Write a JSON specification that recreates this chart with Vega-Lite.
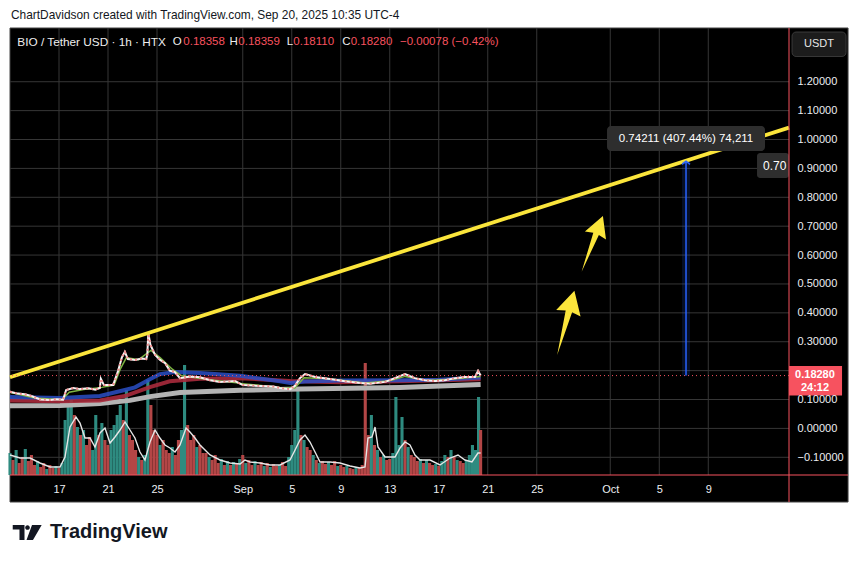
{
  "$schema": "https://vega.github.io/schema/vega-lite/v6.json",
  "width": 779,
  "height": 447,
  "autosize": {"type": "none"},
  "padding": {"left": 10, "top": 28, "right": 71, "bottom": 88},
  "background": "#ffffff",
  "config": {
    "view": {"fill": "#000000", "stroke": null},
    "font": "Liberation Sans",
    "axis": {"domain": false, "ticks": false, "tickSize": 0, "grid": false, "labelFont": "Liberation Sans", "labelFontSize": 11, "labelColor": "#eceef2", "labelOverlap": false}
  },
  "data": {"values": [{}]},
  "datasets": {
    "gridx": [
      {"t": "2025-08-17T00:00"}, {"t": "2025-08-21T00:00"}, {"t": "2025-08-25T00:00"}, {"t": "2025-09-01T00:00"},
      {"t": "2025-09-05T00:00"}, {"t": "2025-09-09T00:00"}, {"t": "2025-09-13T00:00"}, {"t": "2025-09-17T00:00"},
      {"t": "2025-09-21T00:00"}, {"t": "2025-09-25T00:00"}, {"t": "2025-10-01T00:00"}, {"t": "2025-10-05T00:00"},
      {"t": "2025-10-09T00:00"}
    ],
    "gridy": [
      {"v": -0.1}, {"v": 0}, {"v": 0.1}, {"v": 0.2}, {"v": 0.3}, {"v": 0.4}, {"v": 0.5}, {"v": 0.6}, {"v": 0.7},
      {"v": 0.8}, {"v": 0.9}, {"v": 1.0}, {"v": 1.1}, {"v": 1.2}
    ],
    "volume": [
      {"t": "2025-08-13T00:00", "v": 22, "d": "u"}, {"t": "2025-08-13T06:00", "v": 15, "d": "d"}, {"t": "2025-08-13T12:00", "v": 25, "d": "u"}, {"t": "2025-08-13T18:00", "v": 12, "d": "d"},
      {"t": "2025-08-14T00:00", "v": 18, "d": "d"}, {"t": "2025-08-14T06:00", "v": 26, "d": "u"}, {"t": "2025-08-14T12:00", "v": 14, "d": "d"}, {"t": "2025-08-14T18:00", "v": 20, "d": "d"},
      {"t": "2025-08-15T00:00", "v": 10, "d": "d"}, {"t": "2025-08-15T06:00", "v": 14, "d": "u"}, {"t": "2025-08-15T12:00", "v": 8, "d": "d"}, {"t": "2025-08-15T18:00", "v": 12, "d": "d"},
      {"t": "2025-08-16T00:00", "v": 6, "d": "u"}, {"t": "2025-08-16T06:00", "v": 10, "d": "d"}, {"t": "2025-08-16T12:00", "v": 7, "d": "d"}, {"t": "2025-08-16T18:00", "v": 9, "d": "u"},
      {"t": "2025-08-17T00:00", "v": 7, "d": "d"}, {"t": "2025-08-17T06:00", "v": 12, "d": "u"}, {"t": "2025-08-17T12:00", "v": 55, "d": "u"}, {"t": "2025-08-17T18:00", "v": 70, "d": "u"},
      {"t": "2025-08-18T00:00", "v": 75, "d": "u"}, {"t": "2025-08-18T06:00", "v": 60, "d": "d"}, {"t": "2025-08-18T12:00", "v": 48, "d": "u"}, {"t": "2025-08-18T18:00", "v": 40, "d": "d"},
      {"t": "2025-08-19T00:00", "v": 45, "d": "u"}, {"t": "2025-08-19T06:00", "v": 30, "d": "d"}, {"t": "2025-08-19T12:00", "v": 38, "d": "d"}, {"t": "2025-08-19T18:00", "v": 25, "d": "u"},
      {"t": "2025-08-20T00:00", "v": 60, "d": "u"}, {"t": "2025-08-20T06:00", "v": 40, "d": "d"}, {"t": "2025-08-20T12:00", "v": 52, "d": "u"}, {"t": "2025-08-20T18:00", "v": 35, "d": "d"},
      {"t": "2025-08-21T00:00", "v": 30, "d": "d"}, {"t": "2025-08-21T06:00", "v": 45, "d": "u"}, {"t": "2025-08-21T12:00", "v": 50, "d": "u"}, {"t": "2025-08-21T18:00", "v": 60, "d": "u"},
      {"t": "2025-08-22T00:00", "v": 70, "d": "u"}, {"t": "2025-08-22T06:00", "v": 55, "d": "d"}, {"t": "2025-08-22T12:00", "v": 85, "d": "u"}, {"t": "2025-08-22T18:00", "v": 40, "d": "d"},
      {"t": "2025-08-23T00:00", "v": 35, "d": "d"}, {"t": "2025-08-23T06:00", "v": 25, "d": "d"}, {"t": "2025-08-23T12:00", "v": 18, "d": "u"}, {"t": "2025-08-23T18:00", "v": 15, "d": "d"},
      {"t": "2025-08-24T00:00", "v": 20, "d": "u"}, {"t": "2025-08-24T06:00", "v": 95, "d": "u"}, {"t": "2025-08-24T12:00", "v": 70, "d": "d"}, {"t": "2025-08-24T18:00", "v": 45, "d": "d"},
      {"t": "2025-08-25T00:00", "v": 40, "d": "d"}, {"t": "2025-08-25T06:00", "v": 30, "d": "u"}, {"t": "2025-08-25T12:00", "v": 35, "d": "d"}, {"t": "2025-08-25T18:00", "v": 25, "d": "d"},
      {"t": "2025-08-26T00:00", "v": 22, "d": "d"}, {"t": "2025-08-26T06:00", "v": 28, "d": "u"}, {"t": "2025-08-26T12:00", "v": 20, "d": "d"}, {"t": "2025-08-26T18:00", "v": 35, "d": "d"},
      {"t": "2025-08-27T00:00", "v": 45, "d": "u"}, {"t": "2025-08-27T06:00", "v": 110, "d": "u"}, {"t": "2025-08-27T12:00", "v": 50, "d": "d"}, {"t": "2025-08-27T18:00", "v": 35, "d": "d"},
      {"t": "2025-08-28T00:00", "v": 40, "d": "d"}, {"t": "2025-08-28T06:00", "v": 28, "d": "u"}, {"t": "2025-08-28T12:00", "v": 30, "d": "d"}, {"t": "2025-08-28T18:00", "v": 22, "d": "d"},
      {"t": "2025-08-29T00:00", "v": 22, "d": "d"}, {"t": "2025-08-29T06:00", "v": 18, "d": "u"}, {"t": "2025-08-29T12:00", "v": 15, "d": "d"}, {"t": "2025-08-29T18:00", "v": 20, "d": "d"},
      {"t": "2025-08-30T00:00", "v": 12, "d": "d"}, {"t": "2025-08-30T06:00", "v": 16, "d": "u"}, {"t": "2025-08-30T12:00", "v": 10, "d": "d"}, {"t": "2025-08-30T18:00", "v": 14, "d": "u"},
      {"t": "2025-08-31T00:00", "v": 10, "d": "d"}, {"t": "2025-08-31T06:00", "v": 13, "d": "u"}, {"t": "2025-08-31T12:00", "v": 12, "d": "d"}, {"t": "2025-08-31T18:00", "v": 16, "d": "u"},
      {"t": "2025-09-01T00:00", "v": 20, "d": "d"}, {"t": "2025-09-01T06:00", "v": 12, "d": "u"}, {"t": "2025-09-01T12:00", "v": 15, "d": "d"}, {"t": "2025-09-01T18:00", "v": 10, "d": "d"},
      {"t": "2025-09-02T00:00", "v": 14, "d": "u"}, {"t": "2025-09-02T06:00", "v": 10, "d": "d"}, {"t": "2025-09-02T12:00", "v": 13, "d": "d"}, {"t": "2025-09-02T18:00", "v": 9, "d": "u"},
      {"t": "2025-09-03T00:00", "v": 12, "d": "d"}, {"t": "2025-09-03T06:00", "v": 8, "d": "u"}, {"t": "2025-09-03T12:00", "v": 11, "d": "d"}, {"t": "2025-09-03T18:00", "v": 9, "d": "d"},
      {"t": "2025-09-04T00:00", "v": 10, "d": "u"}, {"t": "2025-09-04T06:00", "v": 13, "d": "d"}, {"t": "2025-09-04T12:00", "v": 9, "d": "d"}, {"t": "2025-09-04T18:00", "v": 18, "d": "u"},
      {"t": "2025-09-05T00:00", "v": 30, "d": "u"}, {"t": "2025-09-05T06:00", "v": 45, "d": "u"}, {"t": "2025-09-05T12:00", "v": 88, "d": "u"}, {"t": "2025-09-05T18:00", "v": 40, "d": "d"},
      {"t": "2025-09-06T00:00", "v": 35, "d": "u"}, {"t": "2025-09-06T06:00", "v": 28, "d": "d"}, {"t": "2025-09-06T12:00", "v": 25, "d": "d"}, {"t": "2025-09-06T18:00", "v": 20, "d": "u"},
      {"t": "2025-09-07T00:00", "v": 15, "d": "d"}, {"t": "2025-09-07T06:00", "v": 12, "d": "u"}, {"t": "2025-09-07T12:00", "v": 14, "d": "d"}, {"t": "2025-09-07T18:00", "v": 11, "d": "d"},
      {"t": "2025-09-08T00:00", "v": 13, "d": "u"}, {"t": "2025-09-08T06:00", "v": 10, "d": "d"}, {"t": "2025-09-08T12:00", "v": 14, "d": "d"}, {"t": "2025-09-08T18:00", "v": 9, "d": "u"},
      {"t": "2025-09-09T00:00", "v": 10, "d": "d"}, {"t": "2025-09-09T06:00", "v": 8, "d": "d"}, {"t": "2025-09-09T12:00", "v": 9, "d": "u"}, {"t": "2025-09-09T18:00", "v": 7, "d": "d"},
      {"t": "2025-09-10T00:00", "v": 6, "d": "d"}, {"t": "2025-09-10T06:00", "v": 8, "d": "u"}, {"t": "2025-09-10T12:00", "v": 7, "d": "d"}, {"t": "2025-09-10T18:00", "v": 10, "d": "d"},
      {"t": "2025-09-11T00:00", "v": 112, "d": "d"}, {"t": "2025-09-11T06:00", "v": 40, "d": "d"}, {"t": "2025-09-11T12:00", "v": 60, "d": "u"}, {"t": "2025-09-11T18:00", "v": 30, "d": "d"},
      {"t": "2025-09-12T00:00", "v": 25, "d": "u"}, {"t": "2025-09-12T06:00", "v": 18, "d": "d"}, {"t": "2025-09-12T12:00", "v": 20, "d": "u"}, {"t": "2025-09-12T18:00", "v": 15, "d": "d"},
      {"t": "2025-09-13T00:00", "v": 16, "d": "d"}, {"t": "2025-09-13T06:00", "v": 22, "d": "u"}, {"t": "2025-09-13T12:00", "v": 78, "d": "u"}, {"t": "2025-09-13T18:00", "v": 30, "d": "u"},
      {"t": "2025-09-14T00:00", "v": 58, "d": "u"}, {"t": "2025-09-14T06:00", "v": 35, "d": "d"}, {"t": "2025-09-14T12:00", "v": 28, "d": "u"}, {"t": "2025-09-14T18:00", "v": 20, "d": "d"},
      {"t": "2025-09-15T00:00", "v": 18, "d": "d"}, {"t": "2025-09-15T06:00", "v": 14, "d": "d"}, {"t": "2025-09-15T12:00", "v": 16, "d": "u"}, {"t": "2025-09-15T18:00", "v": 12, "d": "d"},
      {"t": "2025-09-16T00:00", "v": 15, "d": "u"}, {"t": "2025-09-16T06:00", "v": 12, "d": "d"}, {"t": "2025-09-16T12:00", "v": 10, "d": "d"}, {"t": "2025-09-16T18:00", "v": 11, "d": "u"},
      {"t": "2025-09-17T00:00", "v": 9, "d": "d"}, {"t": "2025-09-17T06:00", "v": 14, "d": "u"}, {"t": "2025-09-17T12:00", "v": 20, "d": "u"}, {"t": "2025-09-17T18:00", "v": 18, "d": "d"},
      {"t": "2025-09-18T00:00", "v": 25, "d": "u"}, {"t": "2025-09-18T06:00", "v": 18, "d": "d"}, {"t": "2025-09-18T12:00", "v": 15, "d": "u"}, {"t": "2025-09-18T18:00", "v": 14, "d": "d"},
      {"t": "2025-09-19T00:00", "v": 12, "d": "d"}, {"t": "2025-09-19T06:00", "v": 15, "d": "u"}, {"t": "2025-09-19T12:00", "v": 20, "d": "u"}, {"t": "2025-09-19T18:00", "v": 30, "d": "u"},
      {"t": "2025-09-20T00:00", "v": 25, "d": "u"}, {"t": "2025-09-20T06:00", "v": 78, "d": "u"}, {"t": "2025-09-20T10:00", "v": 45, "d": "d"}
    ],
    "volma": [
      {"t": "2025-08-13T00:00", "v": 20}, {"t": "2025-08-13T19:35", "v": 17}, {"t": "2025-08-14T15:11", "v": 17}, {"t": "2025-08-15T10:47", "v": 12},
      {"t": "2025-08-16T06:22", "v": 8}, {"t": "2025-08-17T01:58", "v": 8}, {"t": "2025-08-17T11:45", "v": 18}, {"t": "2025-08-17T21:33", "v": 48},
      {"t": "2025-08-18T09:18", "v": 58}, {"t": "2025-08-18T17:08", "v": 52}, {"t": "2025-08-19T02:56", "v": 37}, {"t": "2025-08-19T12:44", "v": 37},
      {"t": "2025-08-19T22:32", "v": 28}, {"t": "2025-08-20T08:20", "v": 42}, {"t": "2025-08-20T18:07", "v": 47}, {"t": "2025-08-21T03:55", "v": 32},
      {"t": "2025-08-21T13:42", "v": 38}, {"t": "2025-08-21T23:31", "v": 45}, {"t": "2025-08-22T09:18", "v": 53}, {"t": "2025-08-22T19:06", "v": 45},
      {"t": "2025-08-23T04:48", "v": 37}, {"t": "2025-08-23T14:38", "v": 23}, {"t": "2025-08-24T00:29", "v": 15}, {"t": "2025-08-24T10:19", "v": 33},
      {"t": "2025-08-24T20:09", "v": 45}, {"t": "2025-08-25T05:45", "v": 37}, {"t": "2025-08-25T15:36", "v": 30}, {"t": "2025-08-26T01:26", "v": 27},
      {"t": "2025-08-26T11:17", "v": 23}, {"t": "2025-08-26T21:07", "v": 30}, {"t": "2025-08-27T08:53", "v": 47}, {"t": "2025-08-27T16:34", "v": 43},
      {"t": "2025-08-28T02:24", "v": 37}, {"t": "2025-08-28T12:14", "v": 30}, {"t": "2025-08-29T07:55", "v": 20}, {"t": "2025-08-30T03:21", "v": 15},
      {"t": "2025-08-30T23:02", "v": 12}, {"t": "2025-08-31T18:43", "v": 11}, {"t": "2025-09-01T04:19", "v": 15}, {"t": "2025-09-01T14:10", "v": 13},
      {"t": "2025-09-02T09:50", "v": 12}, {"t": "2025-09-03T05:17", "v": 10}, {"t": "2025-09-04T00:58", "v": 10}, {"t": "2025-09-04T20:38", "v": 15},
      {"t": "2025-09-05T06:29", "v": 25}, {"t": "2025-09-05T16:05", "v": 35}, {"t": "2025-09-06T01:55", "v": 40}, {"t": "2025-09-06T11:46", "v": 33},
      {"t": "2025-09-06T21:36", "v": 23}, {"t": "2025-09-07T07:26", "v": 13}, {"t": "2025-09-08T02:53", "v": 13}, {"t": "2025-09-08T22:34", "v": 12},
      {"t": "2025-09-09T18:14", "v": 9}, {"t": "2025-09-10T13:41", "v": 7}, {"t": "2025-09-10T23:31", "v": 8}, {"t": "2025-09-11T05:17", "v": 37},
      {"t": "2025-09-11T13:12", "v": 38}, {"t": "2025-09-11T19:12", "v": 48}, {"t": "2025-09-12T00:58", "v": 28}, {"t": "2025-09-12T14:38", "v": 18},
      {"t": "2025-09-13T10:19", "v": 18}, {"t": "2025-09-13T20:10", "v": 27}, {"t": "2025-09-14T05:45", "v": 33}, {"t": "2025-09-14T15:36", "v": 30},
      {"t": "2025-09-15T01:26", "v": 20}, {"t": "2025-09-15T11:17", "v": 15}, {"t": "2025-09-16T06:58", "v": 15}, {"t": "2025-09-17T02:24", "v": 10},
      {"t": "2025-09-17T22:05", "v": 17}, {"t": "2025-09-18T13:41", "v": 20}, {"t": "2025-09-19T03:21", "v": 15}, {"t": "2025-09-19T17:02", "v": 13},
      {"t": "2025-09-20T04:48", "v": 22}, {"t": "2025-09-20T10:00", "v": 22}
    ],
    "trend": [
      {"t": "2025-08-13T00:00", "v": 0.177}, {"t": "2025-10-15T14:10", "v": 1.041}
    ],
    "gray": [
      {"t": "2025-08-13T00:00", "v": 0.078}, {"t": "2025-08-17T02:00", "v": 0.079}, {"t": "2025-08-20T08:00", "v": 0.086}, {"t": "2025-08-22T19:00", "v": 0.097},
      {"t": "2025-08-24T10:00", "v": 0.110}, {"t": "2025-08-26T21:00", "v": 0.124}, {"t": "2025-08-31T19:00", "v": 0.132}, {"t": "2025-09-05T16:00", "v": 0.136},
      {"t": "2025-09-13T20:00", "v": 0.142}, {"t": "2025-09-20T10:00", "v": 0.152}
    ],
    "red": [
      {"t": "2025-08-13T00:00", "v": 0.097}, {"t": "2025-08-17T02:00", "v": 0.094}, {"t": "2025-08-20T08:00", "v": 0.097}, {"t": "2025-08-22T09:00", "v": 0.112},
      {"t": "2025-08-24T10:00", "v": 0.143}, {"t": "2025-08-26T01:00", "v": 0.163}, {"t": "2025-08-28T12:00", "v": 0.172}, {"t": "2025-08-31T19:00", "v": 0.174},
      {"t": "2025-09-04T21:00", "v": 0.164}, {"t": "2025-09-08T23:00", "v": 0.160}, {"t": "2025-09-13T20:00", "v": 0.163}, {"t": "2025-09-20T10:00", "v": 0.170}
    ],
    "blue": [
      {"t": "2025-08-13T00:00", "v": 0.109}, {"t": "2025-08-17T02:00", "v": 0.105}, {"t": "2025-08-20T08:00", "v": 0.112}, {"t": "2025-08-22T09:00", "v": 0.133},
      {"t": "2025-08-23T05:00", "v": 0.142}, {"t": "2025-08-24T10:00", "v": 0.170}, {"t": "2025-08-25T06:00", "v": 0.188}, {"t": "2025-08-26T11:00", "v": 0.195},
      {"t": "2025-08-28T12:00", "v": 0.192}, {"t": "2025-08-31T19:00", "v": 0.182}, {"t": "2025-09-04T01:00", "v": 0.163}, {"t": "2025-09-04T21:00", "v": 0.157},
      {"t": "2025-09-06T02:00", "v": 0.162}, {"t": "2025-09-08T23:00", "v": 0.166}, {"t": "2025-09-13T20:00", "v": 0.167}, {"t": "2025-09-17T02:00", "v": 0.168},
      {"t": "2025-09-20T10:00", "v": 0.176}
    ],
    "green": [
      {"t": "2025-08-13T00:00", "v": 0.125}, {"t": "2025-08-15T00:00", "v": 0.105}, {"t": "2025-08-17T06:00", "v": 0.099}, {"t": "2025-08-17T20:00", "v": 0.125},
      {"t": "2025-08-19T00:00", "v": 0.135}, {"t": "2025-08-20T12:00", "v": 0.142}, {"t": "2025-08-21T12:00", "v": 0.150}, {"t": "2025-08-22T00:00", "v": 0.205},
      {"t": "2025-08-22T12:00", "v": 0.245}, {"t": "2025-08-23T12:00", "v": 0.238}, {"t": "2025-08-24T12:00", "v": 0.270}, {"t": "2025-08-25T06:00", "v": 0.245},
      {"t": "2025-08-26T06:00", "v": 0.205}, {"t": "2025-08-27T00:00", "v": 0.182}, {"t": "2025-08-29T00:00", "v": 0.170}, {"t": "2025-09-01T00:00", "v": 0.155},
      {"t": "2025-09-04T00:00", "v": 0.142}, {"t": "2025-09-05T06:00", "v": 0.140}, {"t": "2025-09-06T00:00", "v": 0.175}, {"t": "2025-09-08T00:00", "v": 0.172},
      {"t": "2025-09-11T00:00", "v": 0.157}, {"t": "2025-09-13T00:00", "v": 0.165}, {"t": "2025-09-14T06:00", "v": 0.180}, {"t": "2025-09-16T00:00", "v": 0.166},
      {"t": "2025-09-18T00:00", "v": 0.170}, {"t": "2025-09-20T10:00", "v": 0.180}
    ],
    "price": [
      {"t": "2025-08-13T00:00", "v": 0.127}, {"t": "2025-08-13T12:00", "v": 0.122}, {"t": "2025-08-14T05:00", "v": 0.118}, {"t": "2025-08-14T18:00", "v": 0.112},
      {"t": "2025-08-15T11:00", "v": 0.100}, {"t": "2025-08-16T06:00", "v": 0.098}, {"t": "2025-08-16T20:00", "v": 0.101}, {"t": "2025-08-17T08:00", "v": 0.099},
      {"t": "2025-08-17T14:00", "v": 0.133}, {"t": "2025-08-18T04:00", "v": 0.140}, {"t": "2025-08-18T17:00", "v": 0.136}, {"t": "2025-08-19T10:00", "v": 0.139},
      {"t": "2025-08-19T23:00", "v": 0.134}, {"t": "2025-08-20T08:00", "v": 0.140}, {"t": "2025-08-20T10:00", "v": 0.172}, {"t": "2025-08-20T16:00", "v": 0.150},
      {"t": "2025-08-21T10:00", "v": 0.150}, {"t": "2025-08-21T20:00", "v": 0.200}, {"t": "2025-08-22T03:00", "v": 0.245}, {"t": "2025-08-22T09:00", "v": 0.265},
      {"t": "2025-08-22T15:00", "v": 0.240}, {"t": "2025-08-23T05:00", "v": 0.237}, {"t": "2025-08-23T18:00", "v": 0.242}, {"t": "2025-08-24T03:00", "v": 0.240},
      {"t": "2025-08-24T05:00", "v": 0.255}, {"t": "2025-08-24T07:00", "v": 0.330}, {"t": "2025-08-24T11:00", "v": 0.290}, {"t": "2025-08-24T20:00", "v": 0.255},
      {"t": "2025-08-25T06:00", "v": 0.237}, {"t": "2025-08-25T16:00", "v": 0.226}, {"t": "2025-08-26T01:00", "v": 0.200}, {"t": "2025-08-26T11:00", "v": 0.195},
      {"t": "2025-08-26T21:00", "v": 0.174}, {"t": "2025-08-27T17:00", "v": 0.180}, {"t": "2025-08-28T12:00", "v": 0.177}, {"t": "2025-08-29T08:00", "v": 0.167},
      {"t": "2025-08-30T03:00", "v": 0.161}, {"t": "2025-08-31T09:00", "v": 0.164}, {"t": "2025-09-01T00:00", "v": 0.150}, {"t": "2025-09-02T10:00", "v": 0.147},
      {"t": "2025-09-03T12:00", "v": 0.145}, {"t": "2025-09-04T01:00", "v": 0.140}, {"t": "2025-09-04T21:00", "v": 0.136}, {"t": "2025-09-05T06:00", "v": 0.147},
      {"t": "2025-09-05T16:00", "v": 0.174}, {"t": "2025-09-06T02:00", "v": 0.188}, {"t": "2025-09-06T22:00", "v": 0.178}, {"t": "2025-09-08T03:00", "v": 0.171},
      {"t": "2025-09-09T08:00", "v": 0.163}, {"t": "2025-09-10T14:00", "v": 0.157}, {"t": "2025-09-11T09:00", "v": 0.155}, {"t": "2025-09-12T15:00", "v": 0.161},
      {"t": "2025-09-13T10:00", "v": 0.174}, {"t": "2025-09-14T06:00", "v": 0.188}, {"t": "2025-09-15T01:00", "v": 0.174}, {"t": "2025-09-15T21:00", "v": 0.167},
      {"t": "2025-09-16T17:00", "v": 0.164}, {"t": "2025-09-17T12:00", "v": 0.167}, {"t": "2025-09-18T08:00", "v": 0.174}, {"t": "2025-09-19T03:00", "v": 0.178},
      {"t": "2025-09-19T23:00", "v": 0.178}, {"t": "2025-09-20T05:00", "v": 0.199}, {"t": "2025-09-20T10:00", "v": 0.1828}
    ]
  },
  "resolve": {"scale": {"y": "independent"}},
  "layer": [
    {
      "layer": [
        {
          "mark": {"type": "rect", "fill": "#000000", "stroke": "#454545", "strokeWidth": 1},
          "encoding": {
            "x": {"datum": {"year": 2025, "month": 8, "date": 13, "hours": 0}, "type": "temporal"},
            "x2": {"datum": {"year": 2025, "month": 10, "date": 20, "hours": 9, "minutes": 50}},
            "y": {"datum": 1.386, "type": "quantitative", "scale": {"domain": [-0.1613, 1.386], "nice": false, "zero": false}, "axis": null},
            "y2": {"datum": -0.2548}
          }
        },
        {
          "data": {"name": "gridx"},
          "mark": {"type": "rule", "color": "#363636", "strokeWidth": 1},
          "encoding": {
            "x": {
              "field": "t", "type": "temporal",
              "scale": {"domain": [{"year": 2025, "month": 8, "date": 13, "hours": 0}, {"year": 2025, "month": 10, "date": 15, "hours": 14, "minutes": 10}], "padding": 0},
              "axis": {
                "title": null,
                "zindex": 1,
                "tickCount": 30,
                "values": [
                  {"year": 2025, "month": 8, "date": 17}, {"year": 2025, "month": 8, "date": 21}, {"year": 2025, "month": 8, "date": 25},
                  {"year": 2025, "month": 9, "date": 1}, {"year": 2025, "month": 9, "date": 5}, {"year": 2025, "month": 9, "date": 9},
                  {"year": 2025, "month": 9, "date": 13}, {"year": 2025, "month": 9, "date": 17}, {"year": 2025, "month": 9, "date": 21},
                  {"year": 2025, "month": 9, "date": 25}, {"year": 2025, "month": 10, "date": 1}, {"year": 2025, "month": 10, "date": 5},
                  {"year": 2025, "month": 10, "date": 9}
                ],
                "labelExpr": "date(datum.value) == 1 ? timeFormat(datum.value, '%b') : timeFormat(datum.value, '%-d')",
                "labelPadding": 8,
                "labelFlush": false,
                "labelOverlap": false
              }
            }
          }
        },
        {
          "data": {"name": "gridy"},
          "mark": {"type": "rule", "color": "#363636", "strokeWidth": 1},
          "encoding": {
            "y": {"field": "v", "type": "quantitative", "scale": {"domain": [-0.1613, 1.386], "nice": false, "zero": false}, "axis": null}
          }
        }
      ]
    },
    {
      "layer": [
        {
          "data": {"name": "volume"},
          "mark": {"type": "bar", "width": 3.1},
          "encoding": {
            "x": {"field": "t", "type": "temporal"},
            "y": {"field": "v", "type": "quantitative", "scale": {"domain": [0, 447], "nice": false}, "axis": null},
            "color": {"field": "d", "type": "nominal", "scale": {"domain": ["u", "d"], "range": ["#2e8b80", "#b34646"]}, "legend": null}
          }
        },
        {
          "data": {"name": "volma"},
          "mark": {"type": "line", "color": "#e6e6e6", "strokeWidth": 1.4},
          "encoding": {
            "x": {"field": "t", "type": "temporal"},
            "y": {"field": "v", "type": "quantitative"}
          }
        }
      ]
    },
    {
      "layer": [
        {
          "data": {"name": "gray"},
          "mark": {"type": "line", "color": "#b4b4b4", "strokeWidth": 5},
          "encoding": {
            "x": {"field": "t", "type": "temporal"},
            "y": {
              "field": "v", "type": "quantitative",
              "scale": {"domain": [-0.1613, 1.386], "nice": false, "zero": false},
              "axis": {
                "orient": "right", "title": null, "format": ".5f", "labelPadding": 8, "zindex": 1,
                "labelOverlap": false, "tickCount": 30,
                "values": [-0.1, 0, 0.1, 0.3, 0.4, 0.5, 0.6, 0.7, 0.8, 0.9, 1.0, 1.1, 1.2]
              }
            }
          }
        },
        {
          "data": {"name": "red"},
          "mark": {"type": "line", "color": "#a82a3c", "strokeWidth": 4, "opacity": 0.9},
          "encoding": {"x": {"field": "t", "type": "temporal"}, "y": {"field": "v", "type": "quantitative"}}
        },
        {
          "data": {"name": "blue"},
          "mark": {"type": "line", "color": "#2a4fc4", "strokeWidth": 4, "opacity": 0.85},
          "encoding": {"x": {"field": "t", "type": "temporal"}, "y": {"field": "v", "type": "quantitative"}}
        },
        {
          "data": {"name": "green"},
          "mark": {"type": "line", "color": "#7cb342", "strokeWidth": 1.5},
          "encoding": {"x": {"field": "t", "type": "temporal"}, "y": {"field": "v", "type": "quantitative"}}
        },
        {
          "data": {"name": "price"},
          "mark": {"type": "line", "color": "#f5f5f5", "strokeWidth": 2},
          "encoding": {"x": {"field": "t", "type": "temporal"}, "y": {"field": "v", "type": "quantitative"}}
        },
        {
          "data": {"name": "price"},
          "mark": {"type": "line", "color": "#f28b8b", "strokeWidth": 2, "strokeDash": [2, 3]},
          "encoding": {"x": {"field": "t", "type": "temporal"}, "y": {"field": "v", "type": "quantitative"}}
        },
        {
          "data": {"name": "trend"},
          "mark": {"type": "line", "color": "#fbe53b", "strokeWidth": 3.8},
          "encoding": {"x": {"field": "t", "type": "temporal"}, "y": {"field": "v", "type": "quantitative"}}
        },
        {
          "mark": {"type": "rule", "color": "#f7525f", "strokeWidth": 1, "strokeDash": [1, 3]},
          "encoding": {"y": {"datum": 0.1828, "type": "quantitative"}}
        },
        {
          "mark": {"type": "rect", "fill": "#2962ff", "opacity": 0.15},
          "encoding": {
            "x": {"datum": {"year": 2025, "month": 10, "date": 6, "hours": 20, "minutes": 38}, "type": "temporal"},
            "x2": {"datum": {"year": 2025, "month": 10, "date": 7, "hours": 12, "minutes": 14}},
            "y": {"datum": 0.1828, "type": "quantitative"},
            "y2": {"datum": 0.925}
          }
        },
        {
          "mark": {"type": "rule", "color": "#2962ff", "strokeWidth": 1.5},
          "encoding": {
            "x": {"datum": {"year": 2025, "month": 10, "date": 7, "hours": 4, "minutes": 25}, "type": "temporal"},
            "y": {"datum": 0.1828, "type": "quantitative"},
            "y2": {"datum": 0.925}
          }
        },
        {
          "mark": {"type": "point", "shape": "M-1,0.8L0,0L1,0.8", "size": 64, "filled": false, "color": "#2962ff", "strokeWidth": 1.5, "opacity": 1},
          "encoding": {
            "x": {"datum": {"year": 2025, "month": 10, "date": 7, "hours": 4, "minutes": 25}, "type": "temporal"},
            "y": {"datum": 0.925, "type": "quantitative"}
          }
        },
        {
          "mark": {"type": "rect", "fill": "#2e2e2e", "cornerRadius": 4},
          "encoding": {
            "x": {"datum": {"year": 2025, "month": 9, "date": 30, "hours": 17, "minutes": 38}, "type": "temporal"},
            "x2": {"datum": {"year": 2025, "month": 10, "date": 13, "hours": 15, "minutes": 11}},
            "y": {"datum": 1.0468, "type": "quantitative"},
            "y2": {"datum": 0.9602}
          }
        },
        {
          "mark": {"type": "text", "text": "0.74211 (407.44%) 74,211", "color": "#ffffff", "fontSize": 11.5, "align": "center", "baseline": "middle"},
          "encoding": {
            "x": {"datum": {"year": 2025, "month": 10, "date": 7, "hours": 4, "minutes": 25}, "type": "temporal"},
            "y": {"datum": 1.0035, "type": "quantitative"}
          }
        },
        {
          "mark": {"type": "rect", "fill": "#2e2e2e", "cornerRadius": 3},
          "encoding": {
            "x": {"datum": {"year": 2025, "month": 10, "date": 12, "hours": 23, "minutes": 31}, "type": "temporal"},
            "x2": {"datum": {"year": 2025, "month": 10, "date": 15, "hours": 14, "minutes": 10}},
            "y": {"datum": 0.9533, "type": "quantitative"},
            "y2": {"datum": 0.8668}
          }
        },
        {
          "mark": {"type": "text", "text": "0.70", "color": "#ffffff", "fontSize": 12, "align": "left", "baseline": "middle"},
          "encoding": {
            "x": {"datum": {"year": 2025, "month": 10, "date": 13, "hours": 11, "minutes": 17}, "type": "temporal"},
            "y": {"datum": 0.91, "type": "quantitative"}
          }
        },
        {
          "mark": {"type": "point", "shape": "M0,-1L0.38,-0.3L0.1,-0.36L0,1L-0.1,-0.36L-0.38,-0.3Z", "size": 4422, "angle": 15, "filled": true, "color": "#fbe53b", "opacity": 1, "strokeWidth": 0},
          "encoding": {
            "x": {"datum": {"year": 2025, "month": 9, "date": 27, "hours": 8, "minutes": 53}, "type": "temporal"},
            "y": {"datum": 0.3652, "type": "quantitative"}
          }
        },
        {
          "mark": {"type": "point", "shape": "M0,-1L0.38,-0.3L0.1,-0.36L0,1L-0.1,-0.36L-0.38,-0.3Z", "size": 3540, "angle": 21, "filled": true, "color": "#fbe53b", "opacity": 1, "strokeWidth": 0},
          "encoding": {
            "x": {"datum": {"year": 2025, "month": 9, "date": 29, "hours": 12, "minutes": 43}, "type": "temporal"},
            "y": {"datum": 0.6387, "type": "quantitative"}
          }
        },
        {
          "mark": {"type": "rule", "color": "#f7525f", "strokeWidth": 1},
          "encoding": {
            "x": {"datum": {"year": 2025, "month": 10, "date": 15, "hours": 14, "minutes": 10}, "type": "temporal"},
            "y": {"datum": 1.386, "type": "quantitative"},
            "y2": {"datum": -0.2548}
          }
        },
        {
          "mark": {"type": "rule", "color": "#f7525f", "strokeWidth": 1},
          "encoding": {
            "x": {"datum": {"year": 2025, "month": 8, "date": 13, "hours": 0}, "type": "temporal"},
            "x2": {"datum": {"year": 2025, "month": 10, "date": 20, "hours": 9, "minutes": 50}},
            "y": {"datum": -0.1613, "type": "quantitative"}
          }
        },
        {
          "mark": {"type": "rect", "fill": "#f7525f"},
          "encoding": {
            "x": {"datum": {"year": 2025, "month": 10, "date": 15, "hours": 14, "minutes": 10}, "type": "temporal"},
            "x2": {"datum": {"year": 2025, "month": 10, "date": 19, "hours": 22, "minutes": 5}},
            "y": {"datum": 0.2157, "type": "quantitative"},
            "y2": {"datum": 0.1136}
          }
        },
        {
          "mark": {"type": "text", "text": "0.18280", "color": "#ffffff", "fontSize": 11, "fontWeight": "bold", "align": "center", "baseline": "middle"},
          "encoding": {
            "x": {"datum": {"year": 2025, "month": 10, "date": 17, "hours": 17, "minutes": 2}, "type": "temporal"},
            "y": {"datum": 0.1849, "type": "quantitative"}
          }
        },
        {
          "mark": {"type": "text", "text": "24:12", "color": "#ffffff", "fontSize": 11, "fontWeight": "bold", "align": "center", "baseline": "middle"},
          "encoding": {
            "x": {"datum": {"year": 2025, "month": 10, "date": 17, "hours": 17, "minutes": 2}, "type": "temporal"},
            "y": {"datum": 0.1384, "type": "quantitative"}
          }
        },
        {
          "mark": {"type": "rect", "fill": "#1c1c1c", "stroke": "#3a3a3a", "strokeWidth": 1, "cornerRadius": 4},
          "encoding": {
            "x": {"datum": {"year": 2025, "month": 10, "date": 15, "hours": 20, "minutes": 10}, "type": "temporal"},
            "x2": {"datum": {"year": 2025, "month": 10, "date": 20, "hours": 5, "minutes": 53}},
            "y": {"datum": 1.372, "type": "quantitative"},
            "y2": {"datum": 1.2875}
          }
        },
        {
          "mark": {"type": "text", "text": "USDT", "color": "#e6e6e6", "fontSize": 11, "align": "center", "baseline": "middle"},
          "encoding": {
            "x": {"datum": {"year": 2025, "month": 10, "date": 18, "hours": 1, "minutes": 0}, "type": "temporal"},
            "y": {"datum": 1.33, "type": "quantitative"}
          }
        },
        {
          "mark": {"type": "text", "text": "BIO / Tether USD · 1h · HTX", "color": "#eeeeee", "fontSize": 11.8, "align": "left", "baseline": "middle"},
          "encoding": {
            "x": {"datum": {"year": 2025, "month": 8, "date": 13, "hours": 14, "minutes": 18}, "type": "temporal"},
            "y": {"datum": 1.3375, "type": "quantitative"}
          }
        },
        {
          "mark": {"type": "text", "text": "O", "color": "#eeeeee", "fontSize": 11.5, "align": "left", "baseline": "middle"},
          "encoding": {
            "x": {"datum": {"year": 2025, "month": 8, "date": 26, "hours": 7, "minutes": 0}, "type": "temporal"},
            "y": {"datum": 1.3375, "type": "quantitative"}
          }
        },
        {
          "mark": {"type": "text", "text": "0.18358", "color": "#f7525f", "fontSize": 11.5, "align": "left", "baseline": "middle"},
          "encoding": {
            "x": {"datum": {"year": 2025, "month": 8, "date": 27, "hours": 3, "minutes": 32}, "type": "temporal"},
            "y": {"datum": 1.3375, "type": "quantitative"}
          }
        },
        {
          "mark": {"type": "text", "text": "H", "color": "#eeeeee", "fontSize": 11.5, "align": "left", "baseline": "middle"},
          "encoding": {
            "x": {"datum": {"year": 2025, "month": 8, "date": 30, "hours": 22, "minutes": 2}, "type": "temporal"},
            "y": {"datum": 1.3375, "type": "quantitative"}
          }
        },
        {
          "mark": {"type": "text", "text": "0.18359", "color": "#f7525f", "fontSize": 11.5, "align": "left", "baseline": "middle"},
          "encoding": {
            "x": {"datum": {"year": 2025, "month": 8, "date": 31, "hours": 15, "minutes": 17}, "type": "temporal"},
            "y": {"datum": 1.3375, "type": "quantitative"}
          }
        },
        {
          "mark": {"type": "text", "text": "L", "color": "#eeeeee", "fontSize": 11.5, "align": "left", "baseline": "middle"},
          "encoding": {
            "x": {"datum": {"year": 2025, "month": 9, "date": 4, "hours": 14, "minutes": 18}, "type": "temporal"},
            "y": {"datum": 1.3375, "type": "quantitative"}
          }
        },
        {
          "mark": {"type": "text", "text": "0.18110", "color": "#f7525f", "fontSize": 11.5, "align": "left", "baseline": "middle"},
          "encoding": {
            "x": {"datum": {"year": 2025, "month": 9, "date": 5, "hours": 3, "minutes": 2}, "type": "temporal"},
            "y": {"datum": 1.3375, "type": "quantitative"}
          }
        },
        {
          "mark": {"type": "text", "text": "C", "color": "#eeeeee", "fontSize": 11.5, "align": "left", "baseline": "middle"},
          "encoding": {
            "x": {"datum": {"year": 2025, "month": 9, "date": 9, "hours": 2, "minutes": 50}, "type": "temporal"},
            "y": {"datum": 1.3375, "type": "quantitative"}
          }
        },
        {
          "mark": {"type": "text", "text": "0.18280", "color": "#f7525f", "fontSize": 11.5, "align": "left", "baseline": "middle"},
          "encoding": {
            "x": {"datum": {"year": 2025, "month": 9, "date": 9, "hours": 19, "minutes": 29}, "type": "temporal"},
            "y": {"datum": 1.3375, "type": "quantitative"}
          }
        },
        {
          "mark": {"type": "text", "text": "−0.00078 (−0.42%)", "color": "#f7525f", "fontSize": 11.5, "align": "left", "baseline": "middle"},
          "encoding": {
            "x": {"datum": {"year": 2025, "month": 9, "date": 13, "hours": 20, "minutes": 5}, "type": "temporal"},
            "y": {"datum": 1.3375, "type": "quantitative"}
          }
        },
        {
          "mark": {"type": "text", "text": "ChartDavidson created with TradingView.com, Sep 20, 2025 10:35 UTC-4", "color": "#131722", "fontSize": 11.9, "align": "left", "baseline": "middle"},
          "encoding": {
            "x": {"datum": {"year": 2025, "month": 8, "date": 13, "hours": 2, "minutes": 0}, "type": "temporal"},
            "y": {"datum": 1.431, "type": "quantitative"}
          }
        },
        {
          "mark": {"type": "point", "shape": "M-1.93,-1L-0.36,-1L-0.36,1L-1.03,1L-1.03,-0.4L-1.93,-0.4Z M0.64,-1L1.93,-1L0.77,1L-0.09,1Z M-0.27,-0.67A0.31,0.31 0 1 0 0.35,-0.67A0.31,0.31 0 1 0 -0.27,-0.67Z", "size": 225, "filled": true, "color": "#131722", "opacity": 1, "strokeWidth": 0},
          "encoding": {
            "x": {"datum": {"year": 2025, "month": 8, "date": 14, "hours": 9, "minutes": 42}, "type": "temporal"},
            "y": {"datum": -0.3603, "type": "quantitative"}
          }
        },
        {
          "mark": {"type": "text", "text": "TradingView", "color": "#131722", "fontSize": 20, "fontWeight": "bold", "align": "left", "baseline": "middle"},
          "encoding": {
            "x": {"datum": {"year": 2025, "month": 8, "date": 16, "hours": 6, "minutes": 22}, "type": "temporal"},
            "y": {"datum": -0.3603, "type": "quantitative"}
          }
        }
      ]
    }
  ]
}
